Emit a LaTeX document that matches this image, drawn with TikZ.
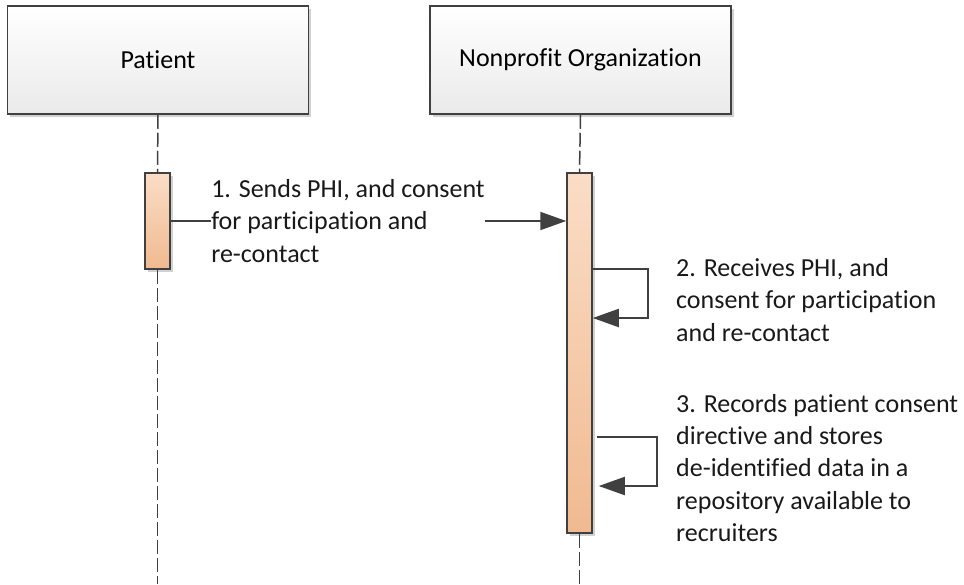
\documentclass[tikz,border=0pt]{standalone}
\usepackage{fontspec}
\setmainfont{Carlito}[Ligatures=NoCommon]
\usetikzlibrary{arrows.meta,shadows}

\definecolor{linegray}{HTML}{404040}
\definecolor{boxbottom}{HTML}{EAEAEA}
\definecolor{bartop}{HTML}{FADDC6}
\definecolor{barbottom}{HTML}{F0BA90}

\tikzset{
  actor/.style={draw=linegray, line width=1.5pt, top color=white, bottom color=boxbottom,
    minimum width=301pt, minimum height=108pt, inner sep=0pt,
    font=\fontsize{26pt}{32.4pt}\selectfont,
    drop shadow={shadow xshift=2.5pt, shadow yshift=-2.5pt, fill=black!30, opacity=0.6}},
  actbar/.style={draw=linegray, line width=1.5pt, top color=bartop, bottom color=barbottom,
    minimum width=25pt, inner sep=0pt,
    drop shadow={shadow xshift=2.5pt, shadow yshift=-2.5pt, fill=black!30, opacity=0.6}},
  lifeline/.style={draw=linegray, line width=1.5pt, dash pattern=on 14pt off 4pt},
  msg/.style={draw=linegray, line width=2pt, -{Triangle[length=26pt,width=18pt]}},
  note/.style={align=left, inner sep=0pt, text=black!90,
    font=\fontsize{26pt}{32.4pt}\selectfont}
}

\begin{document}
\begin{tikzpicture}[x=1pt,y=-1pt]
  \useasboundingbox (0,0) rectangle (964,584);

  % participants
  \node[actor] (patient) at (158,60) {Patient};
  \node[actor] (npo) at (580.5,60) {Nonprofit Organization};

  % activation bars
  \node[actbar, minimum height=96pt] (pbar) at (157.5,221) {};
  \node[actbar, minimum height=360pt] (nbar) at (579.5,353) {};

  % lifelines
  \coordinate (pend) at (157.5,584);
  \coordinate (nend) at (579.5,584);
  \draw[lifeline] (patient.south) -- (pbar.north);
  \draw[lifeline] (pbar.south) -- (pend);
  \draw[lifeline] (npo.south) -- (nbar.north);
  \draw[lifeline] (nbar.south) -- (nend);

  % 1. patient to organization
  \draw[msg] (pbar.east |- 0,221) -- (nbar.west |- 0,221)
    node[pos=0.1, anchor=west, fill=white, inner sep=2pt, note] (m1)
    {1. Sends PHI, and consent\\for participation and\\re-contact};

  % 2. self message
  \coordinate (s2a) at (648,269);
  \coordinate (s2b) at (648,318);
  \draw[msg] (nbar.east |- s2a) -- (s2a) -- (s2b) -- (nbar.east |- s2b);
  \node[note, anchor=west] (m2) at (676,300)
    {2. Receives PHI, and\\consent for participation\\and re-contact};

  % 3. self message
  \coordinate (s3a) at (657,437);
  \coordinate (s3b) at (657,486);
  \draw[msg] ([xshift=4pt]nbar.east |- s3a) -- (s3a) -- (s3b) -- ([xshift=6pt]nbar.east |- s3b);
  \node[note, anchor=west] (m3) at (676,468)
    {3. Records patient consent\\directive and stores\\de-identified data in a\\repository available to\\recruiters};
\end{tikzpicture}
\end{document}
